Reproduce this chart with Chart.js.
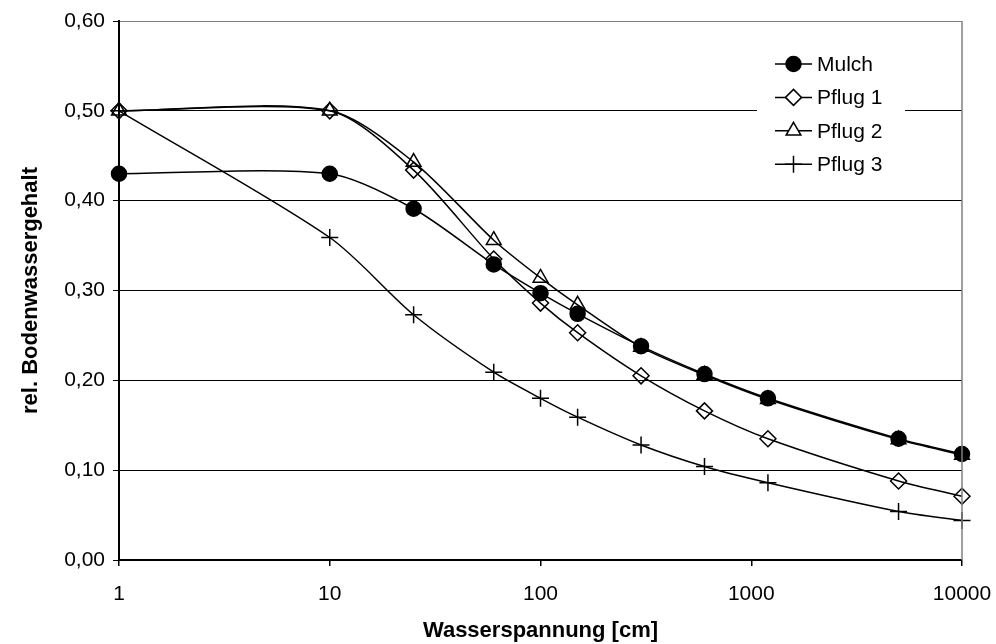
<!DOCTYPE html>
<html>
<head>
<meta charset="utf-8">
<script src="https://cdn.jsdelivr.net/npm/chart.js@4.4.1/dist/chart.umd.min.js"></script>
<style>
  html, body { margin: 0; padding: 0; background: #fff; }
  #wrap { width: 996px; height: 644px; position: relative; }
</style>
</head>
<body>
<div id="wrap"><canvas id="myChart"></canvas></div>
<script>
// Daten
const wasserspannung = [1, 10, 25, 60, 100, 150, 300, 600, 1200, 5000, 10000];
const mulch  = [0.430, 0.430, 0.391, 0.329, 0.297, 0.274, 0.238, 0.207, 0.180, 0.135, 0.118];
const pflug1 = [0.500, 0.500, 0.434, 0.335, 0.286, 0.253, 0.205, 0.166, 0.135, 0.088, 0.071];
const pflug2 = [0.500, 0.500, 0.443, 0.356, 0.314, 0.284, 0.237, 0.206, 0.179, 0.134, 0.117];
const pflug3 = [0.500, 0.359, 0.273, 0.209, 0.180, 0.159, 0.128, 0.104, 0.086, 0.054, 0.044];
const xTicks = [1, 10, 100, 1000, 10000];
const seriesNames = ['Mulch', 'Pflug 1', 'Pflug 2', 'Pflug 3'];

const FONT = '"Liberation Sans", Arial, sans-serif';
const NONE = 'rgba(255,255,255,0)';

function toPoints(values) {
  return values.map((v, i) => ({ x: wasserspannung[i], y: v }));
}

function makeSet(label, values, style, fill, radius) {
  return {
    label: label,
    data: toPoints(values),
    borderColor: '#000',
    borderWidth: 1.5,
    tension: 0.28,
    fill: false,
    clip: false,
    pointStyle: style,
    pointRadius: radius,
    pointBackgroundColor: fill,
    pointBorderColor: '#000',
    pointBorderWidth: 1.5
  };
}

// Marker für die Legende selbst zeichnen
function drawMarker(ctx, style, x, y, r, fill) {
  ctx.save();
  ctx.beginPath();
  ctx.lineWidth = 1.5;
  ctx.strokeStyle = '#000';
  ctx.fillStyle = fill === NONE ? '#fff' : fill;
  if (style === 'circle') {
    ctx.arc(x, y, r, 0, Math.PI * 2);
    ctx.fill(); ctx.stroke();
  } else if (style === 'rectRot') {
    ctx.moveTo(x - r, y); ctx.lineTo(x, y - r); ctx.lineTo(x + r, y); ctx.lineTo(x, y + r);
    ctx.closePath(); ctx.fill(); ctx.stroke();
  } else if (style === 'triangle') {
    for (let k = 0; k < 3; k++) {
      const a = k * 2 * Math.PI / 3;
      const px = x + Math.sin(a) * r, py = y - Math.cos(a) * r;
      if (k === 0) ctx.moveTo(px, py); else ctx.lineTo(px, py);
    }
    ctx.closePath(); ctx.fill(); ctx.stroke();
  } else {
    ctx.moveTo(x, y - r); ctx.lineTo(x, y + r);
    ctx.moveTo(x - r, y); ctx.lineTo(x + r, y);
    ctx.stroke();
  }
  ctx.restore();
}

const extras = {
  id: 'extras',
  afterDraw(chart) {
    const ctx = chart.ctx;
    const a = chart.chartArea;
    // rechter Rahmen
    ctx.save();
    ctx.strokeStyle = '#808080';
    ctx.lineWidth = 1.5;
    ctx.beginPath();
    ctx.moveTo(a.right, a.top);
    ctx.lineTo(a.right, a.bottom);
    ctx.stroke();

    // Legende
    ctx.fillStyle = '#fff';
    ctx.fillRect(757, 46, 148, 136);
    const sets = chart.data.datasets;
    sets.forEach((ds, i) => {
      const y = 64 + i * 33.4;
      ctx.strokeStyle = '#000';
      ctx.lineWidth = 1.5;
      ctx.beginPath();
      ctx.moveTo(775, y);
      ctx.lineTo(812, y);
      ctx.stroke();
      drawMarker(ctx, ds.pointStyle, 793.5, y, ds.pointRadius, ds.pointBackgroundColor);
      ctx.fillStyle = '#000';
      ctx.font = '21px ' + FONT;
      ctx.textAlign = 'left';
      ctx.textBaseline = 'middle';
      ctx.fillText(ds.label, 817, y + 1);
    });
    ctx.restore();
  }
};

const ctx = document.getElementById('myChart').getContext('2d');
const chart = new Chart(ctx, {
  type: 'line',
  data: {
    datasets: [
      makeSet(seriesNames[0], mulch, 'circle', '#000', 7.5),
      makeSet(seriesNames[1], pflug1, 'rectRot', NONE, 8),
      makeSet(seriesNames[2], pflug2, 'triangle', NONE, 8.5),
      makeSet(seriesNames[3], pflug3, 'cross', NONE, 8.5)
    ]
  },
  options: {
    responsive: true,
    maintainAspectRatio: false,
    animation: false,
    layout: { padding: { top: 21, right: 34, left: 0, bottom: 0 } },
    plugins: {
      legend: { display: false },
      tooltip: { enabled: false }
    },
    scales: {
      x: {
        type: 'logarithmic',
        min: 1,
        max: 10000,
        afterBuildTicks: s => { s.ticks = xTicks.map(v => ({ value: v })); },
        afterFit: s => { s.height = 84; s.paddingLeft = 0; s.paddingRight = 0; },
        grid: { drawOnChartArea: false, drawTicks: true, tickLength: 6, tickColor: '#000', lineWidth: 1.5 },
        border: { display: true, color: '#000', width: 2 },
        ticks: {
          color: '#000',
          font: { family: FONT, size: 21 },
          padding: 16,
          maxRotation: 0,
          autoSkip: false,
          callback: v => String(v)
        },
        title: {
          display: true,
          text: 'Wasserspannung [cm]',
          color: '#000',
          font: { family: FONT, size: 22, weight: 'bold' },
          padding: { top: 0, bottom: 0 }
        }
      },
      y: {
        min: 0,
        max: 0.6,
        afterFit: s => { s.width = 119; s.paddingTop = 0; s.paddingBottom = 0; },
        ticks: {
          stepSize: 0.1,
          color: '#000',
          font: { family: FONT, size: 21 },
          padding: 8,
          callback: v => v.toFixed(2).replace('.', ',')
        },
        grid: {
          color: c => (c.tick && Math.abs(c.tick.value - 0.6) < 1e-6) ? '#808080' : '#000',
          lineWidth: 1,
          tickLength: 6,
          tickColor: '#000'
        },
        border: { display: true, color: '#000', width: 2 },
        title: {
          display: true,
          text: 'rel. Bodenwassergehalt',
          color: '#000',
          font: { family: FONT, size: 22, weight: 'bold' },
          padding: { top: 18, bottom: 0 }
        }
      }
    }
  },
  plugins: [extras]
});
</script>
</body>
</html>
